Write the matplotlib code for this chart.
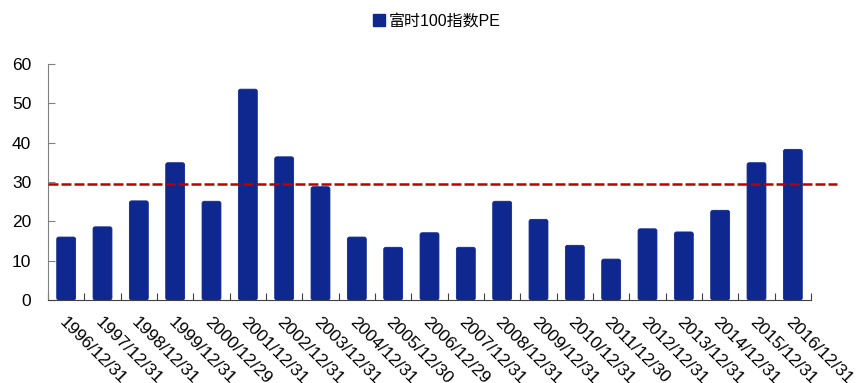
import matplotlib
matplotlib.use("Agg")
import matplotlib.pyplot as plt
from matplotlib.patches import FancyBboxPatch
from matplotlib.lines import Line2D

plt.rcParams['font.family'] = ['Liberation Sans', 'Noto Sans CJK SC', 'DejaVu Sans']

dates = ["1996/12/31", "1997/12/31", "1998/12/31", "1999/12/31", "2000/12/29",
         "2001/12/31", "2002/12/31", "2003/12/31", "2004/12/31", "2005/12/30",
         "2006/12/29", "2007/12/31", "2008/12/31", "2009/12/31", "2010/12/31",
         "2011/12/30", "2012/12/31", "2013/12/31", "2014/12/31", "2015/12/31",
         "2016/12/31"]
pe_values = [16.0, 18.6, 25.2, 34.9, 25.1, 53.6, 36.4, 28.8, 16.0, 13.4,
             17.1, 13.4, 25.1, 20.5, 13.9, 10.4, 18.1, 17.3, 22.8, 34.9, 38.3]
pe_mean = 29.6
series_name = "富时100指数PE"
y_ticks = [0, 10, 20, 30, 40, 50, 60]

bar_color = "#0F2890"
W, H = 857, 383
fig = plt.figure(figsize=(W / 100, H / 100), dpi=100)
ax = fig.add_axes([48 / W, (H - 300) / H, (837 - 48) / W, 236 / H])

n = len(dates)
x_right = n - 0.5 + (837 - 811) / 36.33
ax.set_xlim(-0.5, x_right)
ax.set_ylim(0, 60)

bw = 0.52
for i, v in enumerate(pe_values):
    ax.add_patch(FancyBboxPatch((i - bw / 2, 0), bw, v,
                                boxstyle="round,pad=0,rounding_size=0.06",
                                mutation_aspect=60 / 236 * 36.33,
                                facecolor=bar_color, edgecolor=bar_color,
                                linewidth=0.6))

ax.plot([-0.5, x_right], [pe_mean, pe_mean], color="#C00000",
        linestyle=(0, (4, 1.2)), linewidth=1.8, clip_on=False, zorder=3)

for s in ["top", "right"]:
    ax.spines[s].set_visible(False)
ax.spines["bottom"].set_bounds(-0.5, n - 0.5)
ax.spines["bottom"].set_color("#404040")
ax.spines["left"].set_color("#808080")

ax.set_yticks(y_ticks)
ax.set_yticklabels([str(t) for t in y_ticks], fontsize=12.5)
ax.tick_params(axis="y", direction="in", length=5, color="#808080", pad=12)

ax.set_xticks([i - 0.5 for i in range(n + 1)], minor=False)
ax.set_xticklabels([])
ax.tick_params(axis="x", direction="in", length=5, color="#404040")
for i, d in enumerate(dates):
    ax.text(i + 0.02, -3.6, d, rotation=-45, ha="left", va="top",
            rotation_mode="anchor", fontsize=12.5, clip_on=False)

handle = Line2D([], [], marker="s", linestyle="none", markersize=9,
                markerfacecolor=bar_color, markeredgecolor=bar_color)
fig.legend([handle], [series_name], loc="center", bbox_to_anchor=(0.508, 0.945),
           frameon=False, fontsize=11.5, handletextpad=0.1, handlelength=1.0)

fig.savefig("out.png", dpi=100)
